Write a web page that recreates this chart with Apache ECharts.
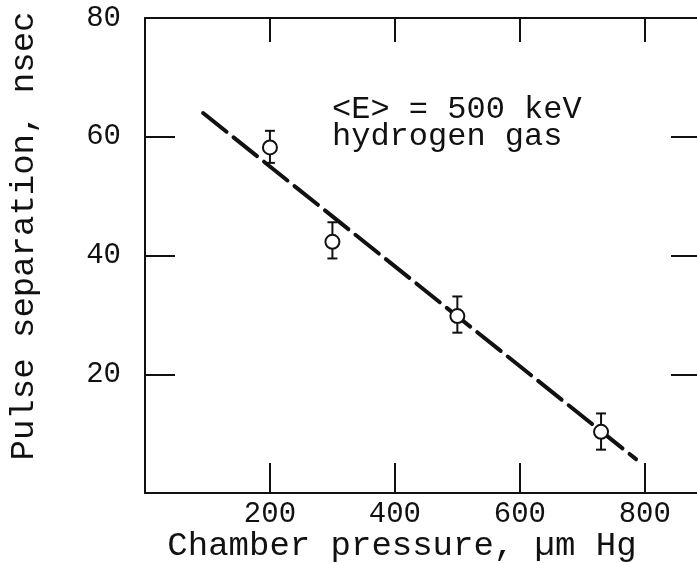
<!DOCTYPE html>
<html>
<head>
<meta charset="utf-8">
<script src="https://cdn.jsdelivr.net/npm/echarts@6/dist/echarts.min.js"></script>
<style>
html,body{margin:0;padding:0;background:#fff;}
#chart{width:697px;height:563px;}
</style>
</head>
<body>
<div id="chart"></div>
<script>
// ---- data ----
const pressure = [200, 300, 500, 730];          // µm Hg
const separation = [58.2, 42.3, 29.8, 10.3];    // nsec
const errLow = [55.6, 39.5, 27.0, 7.3];
const errHigh = [61.0, 45.6, 33.1, 13.4];
const fitX = [93, 786];
const fitY = [64.0, 5.7];
const xTickLabels = [200, 400, 600, 800];
const xTickMarks = [0, 200, 400, 600, 800];
const yTickLabels = [20, 40, 60, 80];
const yTickMarks = [0, 20, 40, 60, 80];
const xTitle = 'Chamber pressure, \u00b5m Hg';
const yTitle = 'Pulse separation, nsec';
const note1 = '<E> = 500 keV';
const note2 = 'hydrogen gas';

const FONT = '"Liberation Mono", "DejaVu Sans Mono", monospace';
const INK = '#111';

const chart = echarts.init(document.getElementById('chart'));

const axisLine = {show: true, onZero: false, lineStyle: {color: INK, width: 2}};
const baseTick = (len, marks) => ({show: true, inside: true, length: len, customValues: marks,
  lineStyle: {color: INK, width: 2}});

const option = {
  backgroundColor: '#fff',
  animation: false,
  grid: {left: 145, right: -4, top: 18, bottom: 70, outerBoundsMode: 'none', containLabel: false},
  xAxis: [
    {
      type: 'value', position: 'bottom', min: 0, max: 890, interval: 200,
      axisLine: axisLine, axisTick: baseTick(30, xTickMarks), splitLine: {show: false},
      axisLabel: {
        color: INK, fontFamily: FONT, fontSize: 29, margin: 7,
        customValues: xTickLabels,
        formatter: v => String(v)
      }
    },
    {
      type: 'value', position: 'top', min: 0, max: 890, interval: 200,
      axisLine: axisLine, axisTick: baseTick(24, xTickMarks), splitLine: {show: false},
      axisLabel: {show: false}
    }
  ],
  yAxis: [
    {
      type: 'value', position: 'left', min: 0, max: 80, interval: 20,
      axisLine: axisLine, axisTick: baseTick(30, yTickMarks), splitLine: {show: false},
      axisLabel: {
        color: INK, fontFamily: FONT, fontSize: 29, margin: 24,
        customValues: yTickLabels,
        formatter: v => String(v)
      }
    },
    {
      type: 'value', position: 'right', min: 0, max: 80, interval: 20,
      axisLine: axisLine, axisTick: baseTick(30, yTickMarks), splitLine: {show: false},
      axisLabel: {show: false}
    }
  ],
  graphic: [
    {type: 'text', x: 24, y: 236, rotation: Math.PI / 2,
      style: {text: yTitle, font: '34px ' + FONT, fill: INK, align: 'center', verticalAlign: 'middle'}},
    {type: 'text', x: 402, y: 546,
      style: {text: xTitle, font: '34px ' + FONT, fill: INK, align: 'center', verticalAlign: 'middle'}},
    {type: 'text', x: 332, y: 110,
      style: {text: note1, font: '32px ' + FONT, fill: INK, align: 'left', verticalAlign: 'middle'}},
    {type: 'text', x: 332, y: 137,
      style: {text: note2, font: '32px ' + FONT, fill: INK, align: 'left', verticalAlign: 'middle'}}
  ],
  series: [
    {
      type: 'line', xAxisIndex: 0, yAxisIndex: 0, z: 2,
      data: fitX.map((x, i) => [x, fitY[i]]),
      symbol: 'none',
      lineStyle: {color: INK, width: 4, type: [30, 9], cap: 'round'}
    },
    {
      type: 'custom', xAxisIndex: 0, yAxisIndex: 0, z: 3,
      data: pressure.map((x, i) => [x, errLow[i], errHigh[i]]),
      encode: {x: 0, y: [1, 2]},
      renderItem: function (params, api) {
        const x = api.value(0);
        const lo = api.coord([x, api.value(1)]);
        const hi = api.coord([x, api.value(2)]);
        const w = 5;
        const st = {stroke: INK, lineWidth: 2};
        return {
          type: 'group',
          children: [
            {type: 'line', shape: {x1: lo[0], y1: lo[1], x2: hi[0], y2: hi[1]}, style: st},
            {type: 'line', shape: {x1: lo[0] - w, y1: lo[1], x2: lo[0] + w, y2: lo[1]}, style: st},
            {type: 'line', shape: {x1: hi[0] - w, y1: hi[1], x2: hi[0] + w, y2: hi[1]}, style: st}
          ]
        };
      }
    },
    {
      type: 'scatter', xAxisIndex: 0, yAxisIndex: 0, z: 4,
      data: pressure.map((x, i) => [x, separation[i]]),
      symbol: 'circle', symbolSize: 14,
      itemStyle: {color: '#fff', borderColor: INK, borderWidth: 2, opacity: 1}
    }
  ]
};
chart.setOption(option);
</script>
</body>
</html>
